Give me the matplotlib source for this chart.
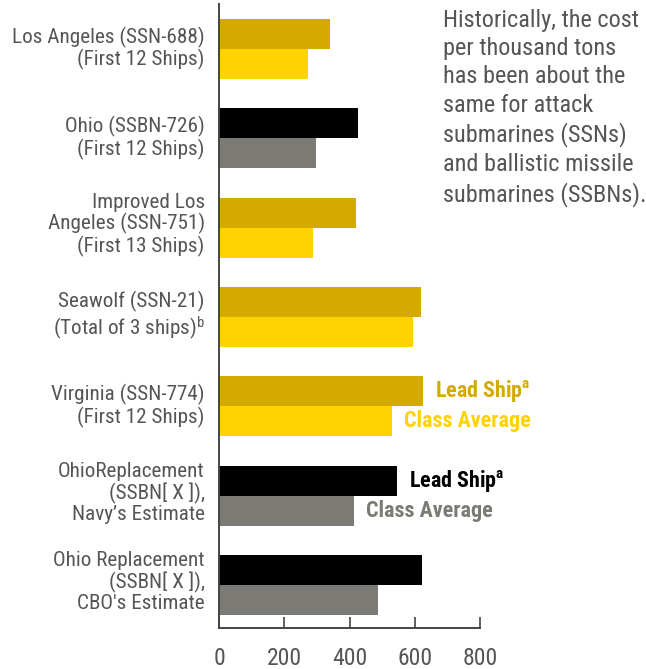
import matplotlib
matplotlib.use("Agg")
import matplotlib.pyplot as plt
from matplotlib import font_manager as fm

names = {f.name for f in fm.fontManager.ttflist}
FONT = next((f for f in ["Roboto Condensed", "Archivo Narrow", "PT Sans Narrow"] if f in names), "DejaVu Sans")

plt.rcParams['font.family'] = [FONT, 'DejaVu Sans']
plt.rcParams['mathtext.fontset'] = 'custom'
plt.rcParams['mathtext.rm'] = FONT
plt.rcParams['mathtext.bf'] = FONT + ':bold'
plt.rcParams['mathtext.default'] = 'regular'

categories = [
    "Los Angeles (SSN-688)\n(First 12 Ships)",
    "Ohio (SSBN-726)\n(First 12 Ships)",
    "Improved Los\nAngeles (SSN-751)\n(First 13 Ships)",
    "Seawolf (SSN-21)\n(Total of 3 ships)$^{b}$",
    "Virginia (SSN-774)\n(First 12 Ships)",
    "OhioReplacement\n(SSBN[ X ]),\nNavy\u2019s Estimate",
    "Ohio Replacement\n(SSBN[ X ]),\nCBO's Estimate",
]
lead_ship = [340, 425, 419, 619, 625, 545, 622]
class_avg = [271, 297, 287, 594, 530, 413, 487]
is_ssbn = [False, True, False, False, False, True, True]
xticks = [0, 200, 400, 600, 800]

GOLD, YELLOW = "#D4AA00", "#FFD200"
BLACK, GRAY = "#000000", "#7B7A74"
TXT = "#555555"

fig = plt.figure(figsize=(6.46, 6.69), dpi=100)
ax = fig.add_axes([219.3/646, 1-628/669, (480-219.3)/646, 624/669])

h = 0.336
for i, (ld, ca, s) in enumerate(zip(lead_ship, class_avg, is_ssbn)):
    c1, c2 = (BLACK, GRAY) if s else (GOLD, YELLOW)
    ax.barh(i - h/2, ld, height=h, color=c1, linewidth=0)
    ax.barh(i + h/2, ca, height=h, color=c2, linewidth=0)

ax.set_xlim(0, 800)
ax.set_ylim(6 + 0.48, -0.504)
ax.set_xticks(xticks)
ax.set_xticklabels([str(t) for t in xticks])
ax.tick_params(axis='x', direction='in', length=8, width=1.2, color="#444444",
               labelsize=17, labelcolor=TXT, pad=13.5)
ax.set_yticks([])
for sp in ['top', 'right']:
    ax.spines[sp].set_visible(False)
for sp in ['left', 'bottom']:
    ax.spines[sp].set_color("#444444")
    ax.spines[sp].set_linewidth(1.4)

for i, lab in enumerate(categories):
    nlines = lab.count("\n") + 1
    dy = 2 if nlines == 3 else 0.3
    ax.annotate(lab, xy=(0, i), xycoords='data', xytext=(-10.5, dy),
                textcoords='offset points', ha='right', va='center',
                fontsize=15.2, color=TXT, linespacing=1.09, annotation_clip=False)

def side_label(i, val, off, text, color):
    ax.annotate(text, xy=(val, i + off), xytext=(8.5, 0), textcoords='offset points',
                ha='left', va='center', fontsize=15.8, fontweight='bold', color=color,
                annotation_clip=False)

side_label(4, lead_ship[4], -h/2, r"Lead Ship$^{\mathbf{a}}$", GOLD)
side_label(4, class_avg[4], h/2, "Class Average", YELLOW)
side_label(5, lead_ship[5], -h/2, r"Lead Ship$^{\mathbf{a}}$", BLACK)
side_label(5, class_avg[5], h/2, "Class Average", GRAY)

fig.text(443/646, 1-8.5/669,
         "Historically, the cost\nper thousand tons\nhas been about the\nsame for attack\n"
         "submarines (SSNs)\nand ballistic missile\nsubmarines (SSBNs).",
         ha='left', va='top', fontsize=17.5, color=TXT, linespacing=1.3)

fig.savefig("out.png", dpi=100)
